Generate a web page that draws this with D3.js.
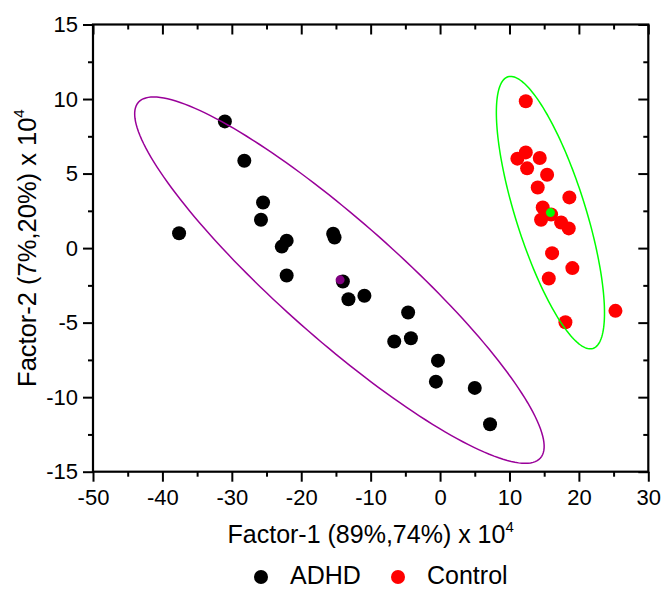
<!DOCTYPE html>
<html>
<head>
<meta charset="utf-8">
<script src="https://cdn.jsdelivr.net/npm/d3@7"></script>
<style>
  html, body { margin: 0; padding: 0; background: #fff; }
  svg { display: block; font-family: "Liberation Sans", Arial, sans-serif; }
</style>
</head>
<body>
<svg id="chart" width="662" height="589"></svg>
<script>
// ADHD group scores (Factor-1, Factor-2), units of 10^4
const adhdX = [-31.0, -28.2, -25.5, -25.8, -37.6, -22.1, -22.8, -15.4, -15.2, -22.1,
               -14.0, -13.2, -10.9, -4.6, -6.6, -4.2, -0.3, -0.6, 5.0, 7.2];
const adhdY = [8.5, 5.86, 3.06, 1.9, 1.0, 0.5, 0.1, 0.96, 0.71, -1.84,
               -2.24, -3.43, -3.2, -4.32, -6.27, -6.05, -7.55, -8.96, -9.38, -11.82];

// Control group scores
const controlX = [12.35, 12.35, 11.14, 14.36, 12.54, 15.42, 14.07, 18.63, 14.79, 16.0,
                  14.55, 17.44, 18.54, 16.14, 19.06, 15.66, 25.27, 18.06];
const controlY = [9.85, 6.42, 6.0, 6.04, 5.35, 4.92, 4.07, 3.40, 2.73, 2.25,
                  1.90, 1.72, 1.32, -0.34, -1.34, -2.04, -4.21, -4.97];

// Group centroids
const adhdCentroid = [-14.4, -2.13];
const controlCentroid = [15.9, 2.38];

// Confidence ellipses: centre and two conjugate semi-axis vectors (data units)
const adhdEllipse = { center: [-14.5, -2.15], axisA: [28.96, -11.93], axisB: [-5.60, -2.95] };
const controlEllipse = { center: [15.9, 2.38], axisA: [6.12, -9.11], axisB: [-4.82, -0.70] };

// Axis ticks
const xTicks = [-50, -40, -30, -20, -10, 0, 10, 20, 30];
const yTicks = [-15, -10, -5, 0, 5, 10, 15];
const xMinor = [-45, -35, -25, -15, -5, 5, 15, 25];
const yMinor = [-12.5, -7.5, -2.5, 2.5, 7.5, 12.5];

const legendNames = ["ADHD", "Control"];

const colors = {
  adhd: "#000000", control: "#ff0000",
  adhdCentroid: "#800080", adhdEllipse: "#990099",
  controlCentroid: "#00ff00"
};

const svg = d3.select("#chart");
const plotLeft = 93, plotRight = 648.3, plotTop = 24.5, plotBottom = 471.7;

const x = d3.scaleLinear().domain([-50, 30]).range([plotLeft, plotRight]);
const y = d3.scaleLinear().domain([-15, 15]).range([plotBottom, plotTop]);

// points
const g = svg.append("g");
g.selectAll("circle.adhd").data(adhdX.map((v, i) => [v, adhdY[i]])).join("circle")
  .attr("class", "adhd").attr("cx", d => x(d[0])).attr("cy", d => y(d[1])).attr("r", 7)
  .attr("fill", colors.adhd);
g.selectAll("circle.control").data(controlX.map((v, i) => [v, controlY[i]])).join("circle")
  .attr("class", "control").attr("cx", d => x(d[0])).attr("cy", d => y(d[1])).attr("r", 7)
  .attr("fill", colors.control);

// ellipses
function ellipsePts(e) {
  return d3.range(0, 361, 2).map(deg => {
    const t = deg * Math.PI / 180;
    return [e.center[0] + Math.cos(t) * e.axisA[0] + Math.sin(t) * e.axisB[0],
            e.center[1] + Math.cos(t) * e.axisA[1] + Math.sin(t) * e.axisB[1]];
  });
}
const line = d3.line().x(d => x(d[0])).y(d => y(d[1])).curve(d3.curveLinearClosed);
g.append("path").attr("d", line(ellipsePts(adhdEllipse)))
  .attr("fill", "none").attr("stroke", colors.adhdEllipse).attr("stroke-width", 1.5);
g.append("path").attr("d", line(ellipsePts(controlEllipse)))
  .attr("fill", "none").attr("stroke", colors.controlCentroid).attr("stroke-width", 1.5);

// centroids
g.append("circle").attr("cx", x(adhdCentroid[0])).attr("cy", y(adhdCentroid[1])).attr("r", 4.5)
  .attr("fill", colors.adhdCentroid);
g.append("circle").attr("cx", x(controlCentroid[0])).attr("cy", y(controlCentroid[1])).attr("r", 4.5)
  .attr("fill", colors.controlCentroid);

// axes
const fmt = d => String(d);
function styleAxis(sel) {
  sel.select(".domain").remove();
  sel.selectAll(".tick line").attr("stroke", "#000").attr("stroke-width", 2);
  sel.selectAll(".tick text").attr("fill", "#000").style("font-size", "22px")
     .style("font-family", "'Liberation Sans', Arial, sans-serif");
}
// bottom
const gb = svg.append("g").attr("transform", `translate(0,${plotBottom})`)
  .call(d3.axisBottom(x).tickValues(xTicks).tickFormat(fmt).tickSize(10).tickPadding(6));
styleAxis(gb);
gb.selectAll(".tick text").attr("dy", "0.71em").attr("y", 18);
svg.append("g").attr("transform", `translate(0,${plotBottom})`)
  .call(d3.axisBottom(x).tickValues(xMinor).tickFormat("").tickSize(5)).call(styleAxis);
// top (inward)
svg.append("g").attr("transform", `translate(0,${plotTop})`)
  .call(d3.axisBottom(x).tickValues(xTicks).tickFormat("").tickSize(10)).call(styleAxis);
svg.append("g").attr("transform", `translate(0,${plotTop})`)
  .call(d3.axisBottom(x).tickValues(xMinor).tickFormat("").tickSize(5)).call(styleAxis);
// left
const gl = svg.append("g").attr("transform", `translate(${plotLeft},0)`)
  .call(d3.axisLeft(y).tickValues(yTicks).tickFormat(fmt).tickSize(10).tickPadding(5));
styleAxis(gl);
svg.append("g").attr("transform", `translate(${plotLeft},0)`)
  .call(d3.axisLeft(y).tickValues(yMinor).tickFormat("").tickSize(5)).call(styleAxis);
// right (inward)
svg.append("g").attr("transform", `translate(${plotRight},0)`)
  .call(d3.axisLeft(y).tickValues(yTicks).tickFormat("").tickSize(10)).call(styleAxis);
svg.append("g").attr("transform", `translate(${plotRight},0)`)
  .call(d3.axisLeft(y).tickValues(yMinor).tickFormat("").tickSize(5)).call(styleAxis);

// frame
svg.append("rect").attr("x", plotLeft).attr("y", plotTop)
  .attr("width", plotRight - plotLeft).attr("height", plotBottom - plotTop)
  .attr("fill", "none").attr("stroke", "#000").attr("stroke-width", 2.2);

// axis titles
const xt = svg.append("text").attr("x", (plotLeft + plotRight) / 2).attr("y", 543)
  .attr("text-anchor", "middle").style("font-size", "25px").attr("fill", "#000");
xt.append("tspan").text("Factor-1 (89%,74%) x 10");
xt.append("tspan").text("4").style("font-size", "15px").attr("dy", -11);

const yt = svg.append("text")
  .attr("transform", `translate(36,${(plotTop + plotBottom) / 2}) rotate(-90)`)
  .attr("text-anchor", "middle").style("font-size", "25.5px").attr("fill", "#000");
yt.append("tspan").text("Factor-2 (7%,20%) x 10");
yt.append("tspan").text("4").style("font-size", "15px").attr("dy", -12);

// legend
const legendColors = [colors.adhd, colors.control];
const legendX = [261, 398];
const lg = svg.append("g");
legendNames.forEach((name, i) => {
  lg.append("circle").attr("cx", legendX[i]).attr("cy", 577).attr("r", 7).attr("fill", legendColors[i]);
  lg.append("text").attr("x", legendX[i] + 29).attr("y", 584).style("font-size", "25px")
    .attr("fill", "#000").text(name);
});
</script>
</body>
</html>
